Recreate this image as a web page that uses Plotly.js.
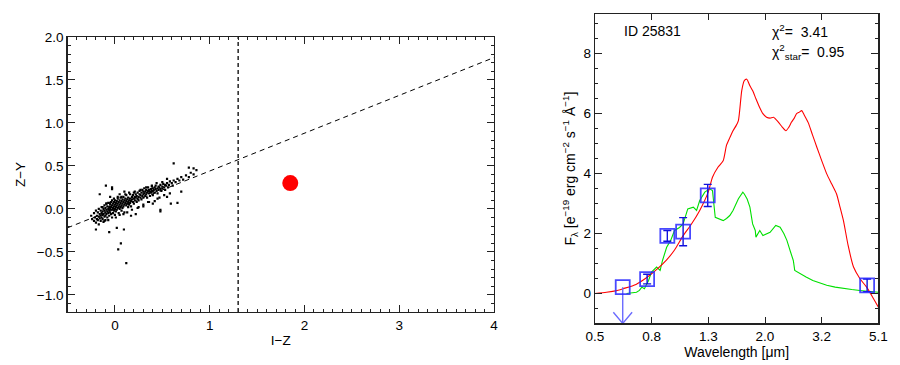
<!DOCTYPE html>
<html>
<head>
<meta charset="utf-8">
<script src="https://cdn.plot.ly/plotly-3.0.1.min.js"></script>
<style>html,body{margin:0;padding:0;background:#fff;}#chart{width:900px;height:365px;}</style>
</head>
<body>
<div id="chart"></div>
<script>
// ---------- Left panel: colour-colour diagram ----------
const sampleIZ = [-0.25,-0.24,-0.22,-0.22,-0.21,-0.2,-0.2,-0.19,-0.19,-0.18,-0.18,-0.17,-0.17,-0.17,-0.16,-0.16,-0.15,-0.15,-0.15,-0.14,-0.14,-0.14,-0.13,-0.13,-0.13,-0.12,-0.12,-0.12,-0.11,-0.11,-0.11,-0.1,-0.1,-0.1,-0.1,-0.09,-0.09,-0.09,-0.08,-0.08,-0.08,-0.07,-0.07,-0.07,-0.06,-0.06,-0.06,-0.05,-0.05,-0.05,-0.04,-0.04,-0.04,-0.03,-0.03,-0.03,-0.02,-0.02,-0.02,-0.01,-0.01,-0.01,0.0,0.0,0.0,0.0,0.01,0.01,0.01,0.02,0.02,0.02,0.03,0.03,0.03,0.04,0.04,0.04,0.05,0.05,0.05,0.06,0.06,0.06,0.07,0.07,0.07,0.08,0.08,0.08,0.09,0.09,0.09,0.1,0.1,0.1,0.11,0.11,0.12,0.12,0.12,0.13,0.13,0.14,0.14,0.14,0.15,0.15,0.16,0.16,0.16,0.17,0.17,0.18,0.18,0.19,0.19,0.2,0.2,0.2,0.21,0.21,0.22,0.22,0.23,0.23,0.24,0.24,0.25,0.25,0.26,0.26,0.27,0.27,0.28,0.28,0.29,0.29,0.3,0.3,0.3,0.31,0.31,0.32,0.32,0.33,0.33,0.34,0.34,0.35,0.35,0.36,0.36,0.37,0.37,0.38,0.38,0.39,0.39,0.4,0.4,0.4,0.41,0.42,0.42,0.43,0.43,0.44,0.45,0.45,0.46,0.46,0.47,0.48,0.48,0.49,0.5,0.5,0.51,0.52,0.53,0.53,0.54,0.55,0.56,0.57,0.58,0.6,0.61,0.62,0.64,0.66,0.68,0.7,0.72,0.75,0.78,0.8,0.83,0.86,
 0.62,-0.095,-0.03,-0.03,-0.16,-0.2,-0.06,0.02,0.095,0.063,0.035,0.12,0.48,0.48,0.66,0.59,0.55,0.4,0.3,0.22,0.25,0.7,0.45,0.35,0.17,0.05,-0.05,0.1,0.78,0.83,
 -0.13,-0.11,-0.09,-0.07,-0.05,-0.03,-0.01,0.01,0.03,0.05,0.07,0.09,0.11,0.13,0.15,0.18,0.21,0.24,0.27,0.3,0.33,0.36,0.39,0.42,0.44,0.47,0.5,0.52,0.55,0.58];
const sampleZY = [-0.08,-0.12,-0.05,-0.14,-0.10,-0.02,-0.16,-0.08,-0.12,-0.04,-0.13,0.0,-0.09,-0.18,-0.06,-0.11,-0.02,-0.08,-0.14,0.02,-0.05,-0.1,-0.03,-0.07,-0.12,0.0,-0.06,-0.15,0.04,-0.02,-0.09,0.01,-0.04,-0.08,-0.13,0.06,-0.01,-0.06,0.03,-0.03,-0.1,0.0,-0.05,0.07,0.02,-0.02,-0.08,0.05,0.0,-0.04,0.08,0.02,-0.06,0.04,-0.01,0.1,0.06,0.01,-0.05,0.03,0.08,-0.02,0.05,0.0,0.1,-0.07,0.02,0.07,-0.03,0.04,0.09,-0.01,0.06,0.12,0.01,0.03,0.08,-0.05,0.05,0.1,0.0,0.07,0.02,0.13,0.04,0.09,-0.02,0.06,0.11,0.01,0.08,0.03,0.14,0.05,0.1,-0.04,0.07,0.12,0.04,0.09,0.16,0.06,0.11,0.02,0.08,0.13,0.1,0.05,0.12,0.07,0.17,0.09,0.03,0.11,0.14,0.08,0.16,0.12,0.06,0.19,0.1,0.14,0.13,0.17,0.08,0.15,0.12,0.19,0.14,0.1,0.17,0.21,0.13,0.16,0.19,0.11,0.15,0.22,0.17,0.13,0.2,0.18,0.24,0.15,0.2,0.17,0.22,0.19,0.13,0.21,0.25,0.18,0.22,0.2,0.15,0.23,0.19,0.21,0.26,0.2,0.24,0.16,0.22,0.25,0.19,0.23,0.27,0.21,0.24,0.18,0.26,0.22,0.25,0.23,0.28,0.21,0.26,0.24,0.29,0.25,0.22,0.28,0.27,0.3,0.25,0.28,0.32,0.3,0.27,0.33,0.31,0.35,0.33,0.37,0.34,0.39,0.37,0.42,0.4,0.45,
 0.53,0.27,0.25,0.23,0.17,-0.24,-0.27,-0.22,-0.24,-0.40,-0.47,-0.63,-0.03,-0.01,0.07,0.06,0.14,0.06,0.03,-0.06,0.02,0.2,0.12,0.08,-0.08,0.17,0.14,0.2,0.48,0.47,
 0.02,-0.14,0.06,-0.13,0.07,-0.1,0.12,-0.1,0.14,-0.07,0.14,-0.06,0.17,-0.04,0.19,-0.01,0.2,0.01,0.22,0.05,0.25,0.08,0.27,0.09,0.3,0.13,0.31,0.16,0.35,0.18];
const candidateIZ = [1.85];
const candidateZY = [0.30];
const selSlope = 0.44, selIntercept = 0.0;   // dashed selection line Z-Y = a*(I-Z)+b
const selCutIZ = 1.3;                        // vertical cut in I-Z
const leftXRange = [-0.5, 4], leftYRange = [-1.2, 2.0];

// ---------- Right panel: SED ----------
const modelWave = [0.5,0.55,0.6,0.631,0.7,0.767,0.83,0.9,0.96,1.03,1.1,1.18,1.265,1.31,1.37,1.43,1.47,1.51,1.55,1.59,1.62,1.665,1.70,1.735,1.78,1.82,1.87,1.93,1.98,2.04,2.1,2.16,2.25,2.32,2.39,2.45,2.5,2.56,2.61,2.67,2.72,2.78,2.87,2.97,3.08,3.2,3.34,3.48,3.62,3.72,3.83,3.98,4.16,4.38,4.63,4.85,5.1];
const modelFlux = [0.0,0.04,0.1,0.16,0.3,0.54,0.8,1.12,1.45,1.93,2.3,2.77,3.38,3.88,4.21,4.43,4.95,5.2,5.43,5.6,5.77,6.77,7.1,7.15,6.93,6.77,6.5,6.2,6.0,5.88,5.85,5.88,5.71,5.55,5.43,5.55,5.71,5.85,6.0,6.05,6.1,5.95,5.7,5.3,4.88,4.45,3.99,3.65,3.32,2.9,2.43,1.6,0.88,0.5,0.21,-0.1,-0.46];
const bestWave = [0.648,0.67,0.703,0.72,0.734,0.75,0.776,0.795,0.81,0.829,0.853,0.87,0.9,0.93,0.96,1.0,1.03,1.07,1.12,1.15,1.18,1.23,1.28,1.31,1.34,1.39,1.43,1.47,1.51,1.55,1.62,1.68,1.7,1.74,1.78,1.82,1.86,1.87,1.93,1.98,2.04,2.1,2.2,2.28,2.35,2.41,2.48,2.54,2.57,2.68,2.82,2.98,3.15,3.34,3.58,3.83,4.1,4.38,4.75,5.1];
const bestFlux = [0.0,0.02,0.04,0.1,0.21,0.16,0.43,0.71,0.8,0.88,0.77,1.1,1.54,1.77,2.1,2.2,2.32,2.82,2.88,2.77,3.1,3.38,3.49,3.43,2.54,2.49,2.43,2.5,2.6,2.77,3.16,3.38,3.32,3.15,2.88,2.32,2.1,1.88,2.1,1.93,2.0,2.04,2.27,2.21,2.0,1.77,1.4,1.1,0.77,0.66,0.55,0.43,0.34,0.27,0.21,0.16,0.13,0.1,0.07,0.04];
const photWave = [0.767,0.905,1.03,1.26,4.65];
const photFlux = [0.48,1.92,2.06,3.27,0.27];
const photErr  = [0.16,0.18,0.47,0.37,0.21];
const limitWave = [0.628];
const limitFlux = [0.21];
const sedTickLabels = ['0.5','0.8','1.3','2.0','3.2','5.1'];
const sedXRange = [0.5, 5.1], sedYRange = [-1, 9.33];
const sedYTicks = [0,2,4,6,8];

// geometric tick positions for the log axis
const sedTickVals = sedTickLabels.map((t,k)=> sedXRange[0]*Math.pow(sedXRange[1]/sedXRange[0], k/(sedTickLabels.length-1)));

const FONT = 'Liberation Sans, Arial, Helvetica, sans-serif';

// arrow for upper limit
const arrowX = [], arrowY = [];
limitWave.forEach((w,i)=>{
  arrowX.push(w, w, null, w/1.08, w, w*1.08);
  arrowY.push(limitFlux[i], sedYRange[0], null, sedYRange[0]+0.37, sedYRange[0], sedYRange[0]+0.37);
});

const traces = [
  {x: leftXRange, y: leftXRange.map(v=>selSlope*v+selIntercept), xaxis:'x', yaxis:'y', mode:'lines',
   line:{color:'#000', width:1, dash:'5px,4px'}, hoverinfo:'skip'},
  {x: [selCutIZ, selCutIZ], y: leftYRange, xaxis:'x', yaxis:'y', mode:'lines',
   line:{color:'#000', width:1.3, dash:'4px,3px'}, hoverinfo:'skip'},
  {x: sampleIZ, y: sampleZY, xaxis:'x', yaxis:'y', mode:'markers',
   marker:{symbol:'square', size:2.2, color:'#000'}},
  {x: candidateIZ, y: candidateZY, xaxis:'x', yaxis:'y', mode:'markers',
   marker:{symbol:'circle', size:16, color:'#ff0000'}},

  {x: bestWave, y: bestFlux, xaxis:'x2', yaxis:'y2', mode:'lines', line:{color:'#00e000', width:1.1}},
  {x: modelWave, y: modelFlux, xaxis:'x2', yaxis:'y2', mode:'lines', line:{color:'#ff0000', width:1.1, shape:'spline', smoothing:0.6}},
  {x: arrowX, y: arrowY, xaxis:'x2', yaxis:'y2', mode:'lines', line:{color:'#6b6bff', width:1.4}},
  {x: limitWave, y: limitFlux, xaxis:'x2', yaxis:'y2', mode:'markers',
   marker:{symbol:'square-open', size:14, color:'rgba(40,40,255,0.85)', line:{width:1.8}}},
  {x: photWave, y: photFlux, xaxis:'x2', yaxis:'y2', mode:'markers',
   error_y:{type:'data', array:photErr, visible:true, color:'#1010dd', thickness:1.4, width:4},
   marker:{symbol:'square-open', size:14, color:'rgba(40,40,255,0.85)', line:{width:1.8}}}
];

const axBase = {showgrid:false, zeroline:false, showline:true, linecolor:'#222', linewidth:1.3,
  mirror:'allticks', ticks:'inside', tickcolor:'#222', tickfont:{family:FONT, size:13.5, color:'#000'}};
const titleFont = {family:FONT, size:13.5, color:'#000'};

const layout = {
  width:900, height:365, margin:{l:0,r:0,t:0,b:0}, showlegend:false,
  paper_bgcolor:'#fff', plot_bgcolor:'#fff', font:{family:FONT, color:'#000'},
  xaxis: Object.assign({}, axBase, {domain:[0.075,0.549], anchor:'y', range:leftXRange,
    tickvals:[0,1,2,3,4], ticklen:7, minor:{dtick:0.1, ticklen:3.5, ticks:'inside', tickcolor:'#222'},
    title:{text:'I−Z', font:titleFont, standoff:4}}),
  yaxis: Object.assign({}, axBase, {domain:[0.145,0.899], anchor:'x', range:leftYRange,
    dtick:0.5, tick0:0, tickformat:'.1f', ticklen:7, minor:{dtick:0.1, ticklen:3.5, ticks:'inside', tickcolor:'#222'},
    title:{text:'Z−Y', font:titleFont, standoff:8}}),
  xaxis2: Object.assign({}, axBase, {domain:[0.661,0.976], anchor:'y2', type:'log',
    range:[Math.log10(sedXRange[0]), Math.log10(sedXRange[1])], tickvals:sedTickVals, ticktext:sedTickLabels, ticklen:6,
    title:{text:'Wavelength [μm]', font:{family:FONT, size:14, color:'#000'}, standoff:1}}),
  yaxis2: Object.assign({}, axBase, {domain:[0.114,0.962], anchor:'x2', range:sedYRange,
    tickvals:sedYTicks, ticklen:7, minor:{dtick:0.5, ticklen:3.5, ticks:'inside', tickcolor:'#222'},
    title:{text:'F<sub>λ</sub> [e<sup>−19</sup> erg cm<sup>−2</sup> s<sup>−1</sup> Å<sup>−1</sup>]', font:{family:FONT, size:14, color:'#000'}, standoff:4}}),
  annotations:[
    {xref:'paper', yref:'paper', x:0.691, y:0.915, xanchor:'left', yanchor:'middle', showarrow:false,
     text:'ID 25831', font:{family:FONT, size:14, color:'#000'}},
    {xref:'paper', yref:'paper', x:0.856, y:0.915, xanchor:'left', yanchor:'middle', showarrow:false,
     text:'χ<sup>2</sup>=  3.41', font:{family:FONT, size:14, color:'#000'}},
    {xref:'paper', yref:'paper', x:0.856, y:0.857, xanchor:'left', yanchor:'middle', showarrow:false,
     text:'χ<sup>2</sup><sub>star</sub>=  0.95', font:{family:FONT, size:14, color:'#000'}}
  ]
};

Plotly.newPlot('chart', traces, layout, {staticPlot:true, displayModeBar:false});
</script>
</body>
</html>
